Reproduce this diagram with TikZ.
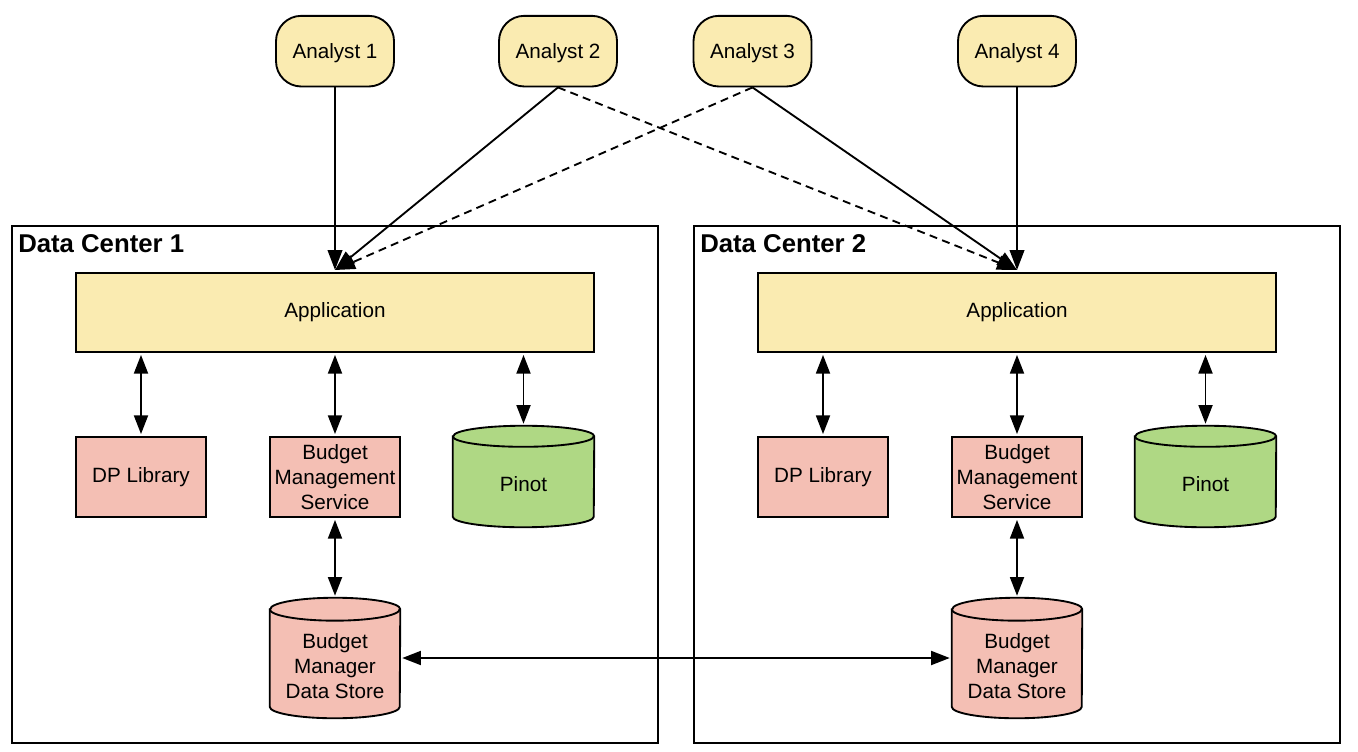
\documentclass[tikz,border=0pt]{standalone}
\usepackage{fontspec}
\setmainfont{Liberation Sans}
\usetikzlibrary{arrows.meta}
\definecolor{yel}{HTML}{FAEBB1}
\definecolor{pnk}{HTML}{F4BFB4}
\definecolor{grn}{HTML}{AFD884}
\tikzset{
  analyst/.style={draw=black, line width=1.4pt, fill=yel, rounded corners=19pt, minimum width=88.5pt, minimum height=53pt, font=\fontsize{15.5}{18.7}\selectfont, text depth=0pt, yshift=-0.5pt},
  appbox/.style={draw=black, line width=1.4pt, fill=yel, minimum width=388.5pt, minimum height=59.25pt, font=\fontsize{15.5}{18.7}\selectfont},
  pinkbox/.style={draw=black, line width=1.4pt, fill=pnk, minimum width=97.5pt, minimum height=60pt, inner sep=0pt, align=center, font=\fontsize{15.5}{18.7}\selectfont},
  cylarea/.style={minimum width=#1, inner sep=0pt},
  cyltext/.style={align=center, font=\fontsize{15.5}{18.7}\selectfont},
  dcbox/.style={draw=black, line width=1.1pt, minimum width=484.5pt, minimum height=387.75pt},
  dctitle/.style={font=\bfseries\fontsize{19.3}{22}\selectfont, anchor=north west, inner sep=0pt},
  link/.style={line width=1.4pt, -{Triangle[length=15pt,width=11pt]}},
  dlink/.style={line width=1.4pt, {Triangle[length=14pt,width=10.5pt]}-{Triangle[length=14pt,width=10.5pt]}, shorten <=1.5pt, shorten >=1.5pt},
  dashline/.style={dashed, dash pattern=on 6pt off 4pt},
}
\begin{document}
\begin{tikzpicture}[x=0.75pt,y=-0.75pt]
\useasboundingbox (0,0) rectangle (1358,752);
% data centers
\node[dcbox] (dc1) at (335,484.5) {};
\node[dcbox] (dc2) at (1017,484.5) {};
\node[dctitle] (t1) at (18,234) {Data Center 1};
\node[dctitle] (t2) at (700,234) {Data Center 2};
% analysts
\node[analyst] (a1) at (335,50.5) {Analyst 1};
\node[analyst] (a2) at (558,50.5) {Analyst 2};
\node[analyst] (a3) at (752.5,50.5) {Analyst 3};
\node[analyst] (a4) at (1017,50.5) {Analyst 4};
% applications
\node[appbox] (app1) at (335,312.5) {Application};
\node[appbox] (app2) at (1017,312.5) {Application};
% pink boxes
\node[pinkbox] (dp1) at (141,477) {DP Library};
\node[pinkbox] (bms1) at (335,477) {Budget\\Management\\Service};
\node[pinkbox] (dp2) at (823,477) {DP Library};
\node[pinkbox] (bms2) at (1017,477) {Budget\\Management\\Service};
% cylinders: Pinot
\foreach \n/\cx in {pin1/523.5, pin2/1205.5}{
  \node[cylarea=105.75pt, minimum height=75.75pt] (\n) at (\cx,476.5) {};
  \draw[line width=1.4pt, fill=grn] ([yshift=-7.9pt]\n.north west) -- ([yshift=7.9pt]\n.south west)
     arc[start angle=180, end angle=360, x radius=52.875pt, y radius=7.9pt]
     -- ([yshift=-7.9pt]\n.north east)
     arc[start angle=0, end angle=180, x radius=52.875pt, y radius=7.9pt] -- cycle;
  \draw[line width=1.4pt] ([yshift=-7.9pt]\n.north west) arc[start angle=180, end angle=360, x radius=52.875pt, y radius=7.9pt];
  \node[cyltext] at ([yshift=-5.5pt]\n.center) {Pinot};
}
% cylinders: data stores
\foreach \n/\cx in {ds1/335, ds2/1017}{
  \node[cylarea=97.5pt, minimum height=90pt] (\n) at (\cx,658) {};
  \draw[line width=1.4pt, fill=pnk] ([yshift=-8.6pt]\n.north west) -- ([yshift=8.6pt]\n.south west)
     arc[start angle=180, end angle=360, x radius=48.75pt, y radius=8.6pt]
     -- ([yshift=-8.6pt]\n.north east)
     arc[start angle=0, end angle=180, x radius=48.75pt, y radius=8.6pt] -- cycle;
  \draw[line width=1.4pt] ([yshift=-8.6pt]\n.north west) arc[start angle=180, end angle=360, x radius=48.75pt, y radius=8.6pt];
  \node[cyltext] at ([yshift=-6pt]\n.center) {Budget\\Manager\\Data Store};
}
% analyst connectors
\coordinate (in1) at (335,270);
\coordinate (in2) at (1017,270);
\draw[link] (a1.south) -- (in1);
\draw[link] (a2.south) -- (in1);
\draw[link, dashline] (a3.south) -- (in1);
\draw[link, dashline] (a2.south) -- (in2);
\draw[link] (a3.south) -- (in2);
\draw[link] (a4.south) -- (in2);
% internal connectors
\foreach \s in {1,2}{
  \draw[dlink] (dp\s.north) -- (dp\s.north |- app\s.south);
  \draw[dlink] (bms\s.north) -- (app\s.south -| bms\s.north);
  \draw[dlink] (pin\s.north) -- (app\s.south -| pin\s.north);
  \draw[dlink] (bms\s.south) -- (ds\s.north);
}
\draw[dlink] (ds1.east) -- (ds2.west);
\end{tikzpicture}
\end{document}
